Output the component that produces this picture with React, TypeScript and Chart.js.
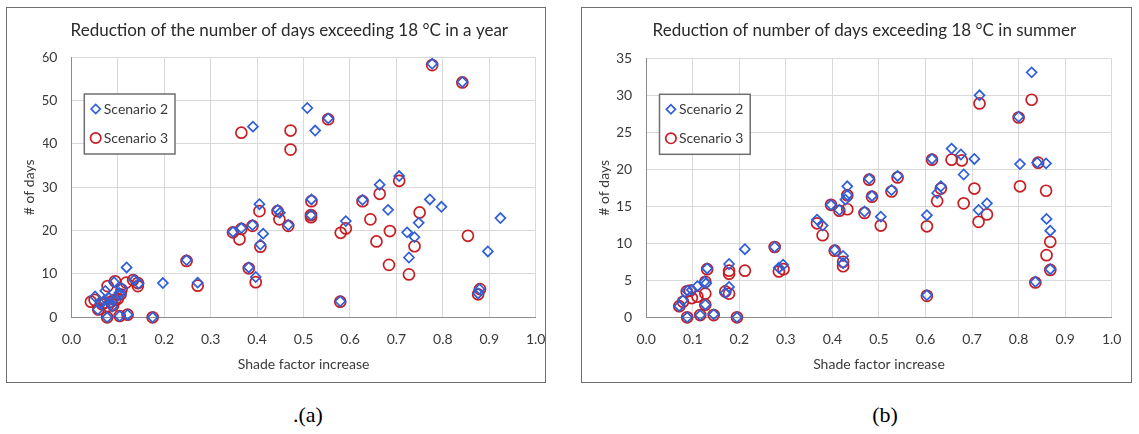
import React, { useEffect, useRef } from 'react';
import { Chart, registerables } from 'chart.js';

Chart.register(...registerables);

// ---------- data (x = shade factor increase, y = # of days) ----------
const yearTitle = 'Reduction of the number of days exceeding 18 °C in a year';
const summerTitle = 'Reduction of number of days exceeding 18 °C in summer';
const seriesNames = ['Scenario 2', 'Scenario 3'];
const xAxisTitle = 'Shade factor increase';
const yAxisTitle = '# of days';
const captions = ['.(a)', '(b)'];

const yearScenario2: [number, number][] = [
  [0.777, 58.5], [0.842, 54.3], [0.508, 48.3], [0.553, 45.9], [0.391, 44.0], [0.525, 43.1],
  [0.706, 32.6], [0.664, 30.6], [0.772, 27.2], [0.627, 27.1], [0.517, 27.2], [0.797, 25.5],
  [0.405, 26.1], [0.682, 24.8], [0.444, 24.8], [0.449, 24.1], [0.516, 23.6], [0.924, 22.9],
  [0.591, 22.2], [0.748, 21.8], [0.467, 21.3], [0.390, 21.3], [0.366, 20.6], [0.348, 19.7],
  [0.413, 19.3], [0.723, 19.6], [0.739, 18.5], [0.407, 16.8], [0.727, 13.8], [0.897, 15.2],
  [0.248, 13.2], [0.119, 11.5], [0.382, 11.5], [0.397, 9.3], [0.197, 7.9], [0.272, 8.0],
  [0.579, 3.7], [0.879, 6.5], [0.876, 5.5], [0.175, 0.0], [0.077, 0.0], [0.104, 0.3],
  [0.121, 0.6], [0.051, 4.8], [0.073, 6.1], [0.092, 8.1], [0.081, 4.5], [0.088, 2.5],
  [0.106, 5.3], [0.103, 5.6], [0.135, 8.6], [0.145, 7.8], [0.062, 3.2], [0.057, 1.8],
  [0.070, 3.8], [0.090, 3.9], [0.084, 3.3], [0.108, 6.8],
];

const yearScenario3: [number, number][] = [
  [0.777, 58.2], [0.842, 54.2], [0.553, 45.7], [0.366, 42.6], [0.472, 43.1], [0.472, 38.7],
  [0.706, 31.5], [0.664, 28.5], [0.627, 26.8], [0.517, 26.8], [0.405, 24.5], [0.750, 24.2],
  [0.444, 24.5], [0.448, 22.6], [0.516, 23.1], [0.516, 23.6], [0.644, 22.6], [0.467, 21.1],
  [0.390, 21.1], [0.366, 20.4], [0.591, 20.5], [0.580, 19.5], [0.348, 19.6], [0.686, 19.9],
  [0.854, 18.8], [0.362, 18.0], [0.657, 17.5], [0.739, 16.4], [0.407, 16.3], [0.248, 13.0],
  [0.684, 12.1], [0.382, 11.3], [0.727, 9.9], [0.397, 8.1], [0.272, 7.3], [0.579, 3.6],
  [0.876, 5.3], [0.880, 6.5], [0.175, 0.0], [0.077, 0.0], [0.104, 0.3], [0.121, 0.6],
  [0.042, 3.6], [0.050, 4.0], [0.058, 1.8], [0.078, 7.2], [0.094, 8.3], [0.094, 4.0],
  [0.085, 3.6], [0.072, 3.4], [0.078, 2.6], [0.090, 2.8], [0.108, 6.4], [0.106, 5.3],
  [0.118, 8.0], [0.133, 8.6], [0.143, 7.9], [0.143, 7.2], [0.066, 3.0], [0.100, 4.3],
];

const summerScenario2: [number, number][] = [
  [0.828, 33.1], [0.716, 30.0], [0.800, 27.1], [0.656, 22.8], [0.676, 22.0], [0.705, 21.4],
  [0.614, 21.4], [0.803, 20.7], [0.859, 20.8], [0.840, 20.9], [0.682, 19.3], [0.540, 19.1],
  [0.479, 18.7], [0.432, 17.7], [0.633, 17.7], [0.625, 16.8], [0.527, 17.2], [0.485, 16.4],
  [0.432, 16.5], [0.428, 15.9], [0.732, 15.4], [0.397, 15.2], [0.415, 14.5], [0.469, 14.3],
  [0.714, 14.5], [0.603, 13.8], [0.504, 13.6], [0.367, 13.2], [0.379, 12.4], [0.860, 13.3],
  [0.868, 11.7], [0.212, 9.2], [0.276, 9.5], [0.405, 9.1], [0.423, 8.3], [0.423, 7.3],
  [0.294, 7.1], [0.285, 6.7], [0.178, 7.2], [0.131, 6.6], [0.868, 6.5], [0.125, 4.8],
  [0.129, 4.6], [0.178, 4.1], [0.110, 4.2], [0.836, 4.8], [0.603, 3.0], [0.170, 3.3],
  [0.088, 3.6], [0.098, 3.7], [0.079, 2.3], [0.071, 1.5], [0.127, 1.7], [0.088, 0.0],
  [0.116, 0.3], [0.145, 0.4], [0.195, 0.0],
];

const summerScenario3: [number, number][] = [
  [0.828, 29.4], [0.716, 28.9], [0.800, 27.0], [0.614, 21.3], [0.656, 21.3], [0.678, 21.2],
  [0.842, 20.9], [0.479, 18.6], [0.540, 18.9], [0.803, 17.7], [0.705, 17.4], [0.633, 17.4],
  [0.527, 17.0], [0.859, 17.1], [0.432, 16.5], [0.485, 16.3], [0.625, 15.7], [0.682, 15.4],
  [0.397, 15.2], [0.432, 14.6], [0.415, 14.4], [0.469, 14.1], [0.732, 13.9], [0.714, 12.9],
  [0.367, 12.7], [0.504, 12.4], [0.603, 12.3], [0.379, 11.1], [0.868, 10.2], [0.276, 9.5],
  [0.405, 9.0], [0.860, 8.4], [0.423, 7.5], [0.423, 6.9], [0.212, 6.3], [0.285, 6.2],
  [0.295, 6.5], [0.178, 6.3], [0.178, 5.9], [0.131, 6.5], [0.868, 6.4], [0.836, 4.7],
  [0.127, 4.8], [0.603, 2.9], [0.170, 3.5], [0.178, 3.2], [0.127, 3.2], [0.087, 3.5],
  [0.094, 3.6], [0.110, 2.8], [0.098, 2.6], [0.079, 2.1], [0.071, 1.5], [0.127, 1.7],
  [0.088, 0.0], [0.116, 0.3], [0.145, 0.3], [0.195, 0.0],
];

const xRange = [0, 1];
const xStep = 0.1;
const yearYRange = [0, 60];
const yearYStep = 10;
const summerYRange = [0, 35];
const summerYStep = 5;

// ---------- styles ----------
const FONT = 'Lato';
const BLUE = '#2F5FD8';
const RED = '#C81E23';
const TEXT = '#3a3a3a';

const boxLegend = {
  id: 'boxLegend',
  afterDraw(chart: any, _args: any, opts: any) {
    const { ctx, chartArea } = chart;
    const x = chartArea.left + opts.dx;
    const y = chartArea.top + opts.dy;
    ctx.save();
    ctx.fillStyle = '#ffffff';
    ctx.fillRect(x, y, opts.w, opts.h);
    ctx.strokeStyle = '#6f6f6f';
    ctx.lineWidth = 1.5;
    ctx.strokeRect(x, y, opts.w, opts.h);
    chart.data.datasets.forEach((ds: any, i: number) => {
      const cx = x + opts.markerX;
      const cy = y + opts.rows[i];
      ctx.strokeStyle = ds.borderColor;
      ctx.lineWidth = 1.7;
      ctx.beginPath();
      if (ds.pointStyle === 'rectRot') {
        const r = 4.6;
        ctx.moveTo(cx - r, cy);
        ctx.lineTo(cx, cy - r);
        ctx.lineTo(cx + r, cy);
        ctx.lineTo(cx, cy + r);
        ctx.closePath();
      } else {
        ctx.arc(cx, cy, 5.2, 0, Math.PI * 2);
      }
      ctx.stroke();
      ctx.fillStyle = TEXT;
      ctx.font = `14px ${FONT}`;
      ctx.textBaseline = 'middle';
      ctx.textAlign = 'left';
      ctx.fillText(ds.label, x + opts.textX, cy);
    });
    ctx.restore();
  },
};

type Panel = {
  title: string;
  s2: [number, number][];
  s3: [number, number][];
  yRange: number[];
  yStep: number;
  padL: number;
  padR: number;
  yWidth: number;
  xHeight: number;
  yTitlePad: number;
  titlePadTop: number;
  titlePadBottom: number;
  legendDx: number;
  legendDy: number;
};

function makeConfig(p: Panel): any {
  return {
    type: 'scatter',
    data: {
      datasets: [
        {
          label: seriesNames[0],
          data: p.s2.map(([x, y]) => ({ x, y })),
          pointStyle: 'rectRot',
          pointRadius: 5,
          borderColor: BLUE,
          backgroundColor: 'rgba(0,0,0,0)',
          borderWidth: 1.7,
          clip: false,
        },
        {
          label: seriesNames[1],
          data: p.s3.map(([x, y]) => ({ x, y })),
          pointStyle: 'circle',
          pointRadius: 5.5,
          borderColor: RED,
          backgroundColor: 'rgba(0,0,0,0)',
          borderWidth: 1.7,
          clip: false,
        },
      ],
    },
    options: {
      responsive: false,
      animation: false,
      layout: { padding: { left: p.padL, right: p.padR, top: 0, bottom: 0 } },
      plugins: {
        legend: { display: false },
        tooltip: { enabled: false },
        title: {
          display: true,
          text: p.title,
          color: '#2a2a2a',
          font: { family: FONT, size: 17, weight: 'normal' },
          padding: { top: p.titlePadTop, bottom: p.titlePadBottom },
        },
        boxLegend: {
          dx: p.legendDx,
          dy: p.legendDy,
          w: 90.7,
          h: 60,
          markerX: 11.4,
          rows: [15, 44],
          textX: 19.5,
        },
      },
      scales: {
        x: {
          type: 'linear',
          min: xRange[0],
          max: xRange[1],
          ticks: {
            stepSize: xStep,
            padding: 14,
            color: TEXT,
            font: { family: FONT, size: 14 },
            callback: (v: any) => Number(v).toFixed(1),
            maxRotation: 0,
          },
          grid: { color: '#d9d9d9', lineWidth: 1, drawTicks: false },
          border: { display: true, color: '#8c8c8c', width: 1 },
          title: {
            display: true,
            text: xAxisTitle,
            color: TEXT,
            font: { family: FONT, size: 14 },
            padding: { top: 0, bottom: 9.1 },
          },
          afterFit: (s: any) => {
            s.height = p.xHeight;
            s.paddingLeft = 0;
            s.paddingRight = 0;
          },
        },
        y: {
          type: 'linear',
          min: p.yRange[0],
          max: p.yRange[1],
          ticks: {
            stepSize: p.yStep,
            padding: 14,
            color: TEXT,
            font: { family: FONT, size: 14 },
          },
          grid: { color: '#d9d9d9', lineWidth: 1, drawTicks: false },
          border: { display: true, color: '#8c8c8c', width: 1 },
          title: {
            display: true,
            text: yAxisTitle,
            color: TEXT,
            font: { family: FONT, size: 14 },
            padding: { top: p.yTitlePad, bottom: 0 },
          },
          afterFit: (s: any) => {
            s.width = p.yWidth;
            s.paddingTop = 0;
            s.paddingBottom = 0;
          },
        },
      },
    },
    plugins: [boxLegend],
  };
}

const panelA: Panel = {
  title: yearTitle,
  s2: yearScenario2,
  s3: yearScenario3,
  yRange: yearYRange,
  yStep: yearYStep,
  padL: 35.9,
  padR: 9.3,
  yWidth: 28.5,
  xHeight: 64.7,
  yTitlePad: -22,
  titlePadTop: 12.8,
  titlePadBottom: 16.1,
  legendDx: 12.9,
  legendDy: 36.7,
};

const panelB: Panel = {
  title: summerTitle,
  s2: summerScenario2,
  s3: summerScenario3,
  yRange: summerYRange,
  yStep: summerYStep,
  padL: 35.1,
  padR: 19.3,
  yWidth: 29.1,
  xHeight: 64.7,
  yTitlePad: -20.8,
  titlePadTop: 12.8,
  titlePadBottom: 17.1,
  legendDx: 13.3,
  legendDy: 36,
};

function ChartPanel({ panel, w, h }: { panel: Panel; w: number; h: number }) {
  const ref = useRef<HTMLCanvasElement | null>(null);
  useEffect(() => {
    if (!ref.current) return;
    const chart = new Chart(ref.current, makeConfig(panel));
    return () => chart.destroy();
  }, [panel]);
  return <canvas ref={ref} width={w} height={h} style={{ width: w, height: h, display: 'block' }} />;
}

const captionStyle: React.CSSProperties = {
  position: 'absolute',
  width: 200,
  top: 402,
  textAlign: 'center',
  fontFamily: '"Liberation Serif", serif',
  fontSize: 22,
  color: '#000',
};

export default function App() {
  return (
    <div
      style={{
        position: 'absolute',
        left: 0,
        top: 0,
        width: 1139,
        height: 434,
        background: '#ffffff',
        overflow: 'hidden',
      }}
    >
      <div
        style={{
          position: 'absolute',
          left: 6,
          top: 7,
          width: 540,
          height: 376,
          boxSizing: 'border-box',
          border: '1px solid #6f6f6f',
        }}
      >
        <ChartPanel panel={panelA} w={538} h={374} />
      </div>
      <div
        style={{
          position: 'absolute',
          left: 581,
          top: 7,
          width: 551,
          height: 376,
          boxSizing: 'border-box',
          border: '1px solid #6f6f6f',
        }}
      >
        <ChartPanel panel={panelB} w={549} h={374} />
      </div>
      <div style={{ ...captionStyle, left: 208 }}>{captions[0]}</div>
      <div style={{ ...captionStyle, left: 785 }}>{captions[1]}</div>
    </div>
  );
}
